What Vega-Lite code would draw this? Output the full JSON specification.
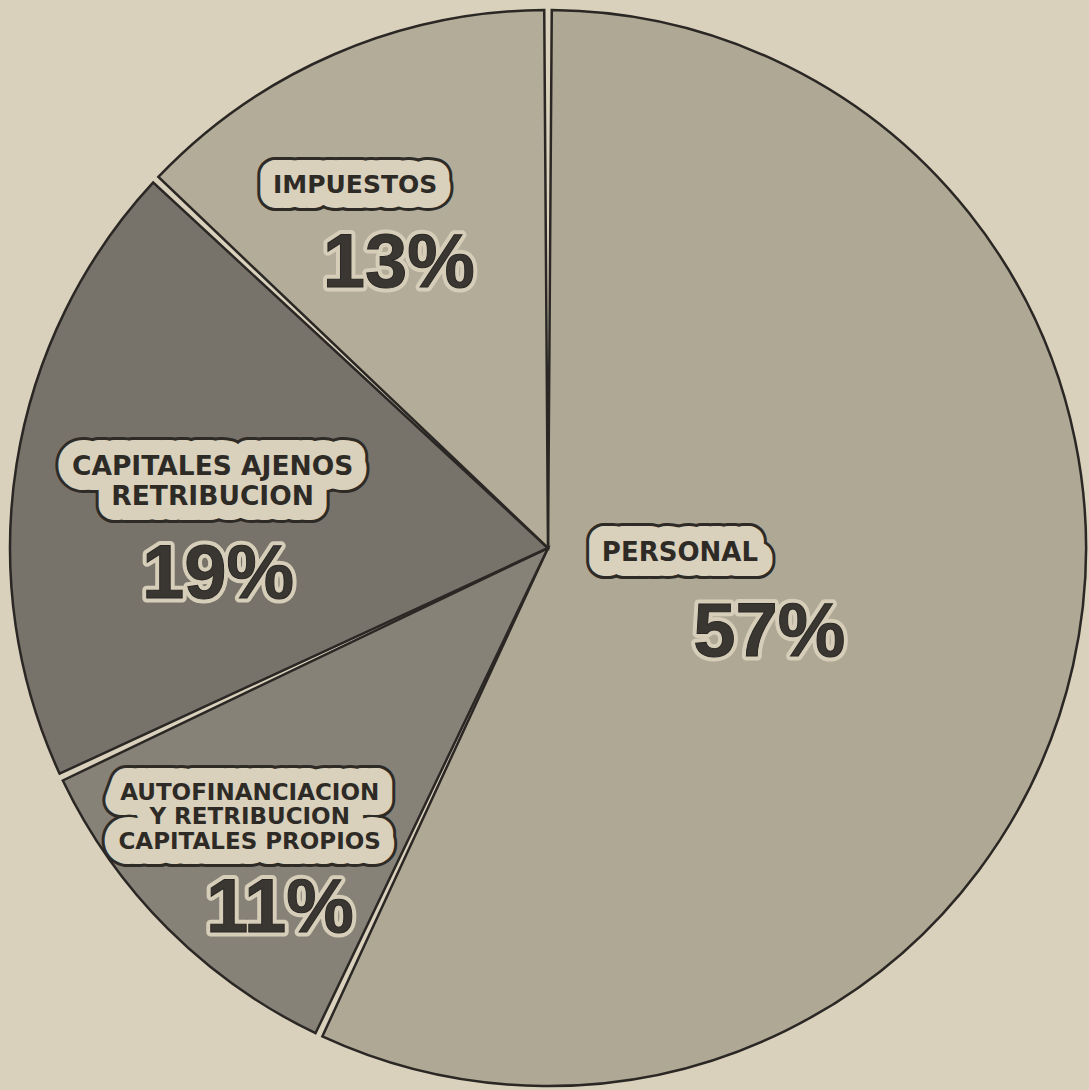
{
  "$schema": "https://vega.github.io/schema/vega-lite/v6.json",
  "width": 1089,
  "height": 1090,
  "autosize": {"type": "fit", "contains": "padding"},
  "padding": {"left": 7, "top": 6, "right": 0, "bottom": 0},
  "background": "#d9d1bc",
  "config": {"view": {"stroke": null}},
  "data": {
    "values": [
      {"cat": "PERSONAL", "label": "PERSONAL", "share": 0.57, "ord": 1},
      {"cat": "AUTO", "label": "AUTOFINANCIACION\nY RETRIBUCION\nCAPITALES PROPIOS", "share": 0.11, "ord": 2},
      {"cat": "AJENOS", "label": "CAPITALES AJENOS\nRETRIBUCION", "share": 0.19, "ord": 3},
      {"cat": "IMP", "label": "IMPUESTOS", "share": 0.13, "ord": 4}
    ]
  },
  "encoding": {
    "theta": {"field": "share", "type": "quantitative", "stack": true},
    "order": {"field": "ord", "type": "quantitative"}
  },
  "layer": [
    {
      "mark": {"type": "arc", "outerRadius": 538, "padAngle": 0.014, "stroke": "#2a2724", "strokeWidth": 2.5},
      "encoding": {
        "color": {
          "field": "cat", "type": "nominal",
          "scale": {"domain": ["PERSONAL", "AUTO", "AJENOS", "IMP"], "range": ["#afa895", "#878277", "#78736a", "#b3ac99"]},
          "legend": null
        }
      }
    },
    {
      "mark": {
        "type": "text",
        "radius": {"expr": "datum.cat==='PERSONAL'?132:datum.cat==='AUTO'?386:datum.cat==='AJENOS'?345:411"},
        "thetaOffset": {"expr": "datum.cat==='PERSONAL'?-0.18:datum.cat==='AUTO'?0.098:datum.cat==='AJENOS'?0.080:-0.08"},
        "lineBreak": "\n",
        "font": "DejaVu Sans", "fontWeight": "bold",
        "fontSize": {"expr": "datum.cat==='PERSONAL'?26:datum.cat==='AUTO'?23:datum.cat==='AJENOS'?26.5:25"},
        "lineHeight": {"expr": "datum.cat==='AUTO'?24.5:30"},
        "align": "center", "baseline": "middle",
        "fill": "#2e2b27", "stroke": "#2e2b27", "strokeWidth": 36,
        "strokeJoin": "round"
      },
      "encoding": {"text": {"field": "label"}}
    },
    {
      "mark": {
        "type": "text",
        "radius": {"expr": "datum.cat==='PERSONAL'?132:datum.cat==='AUTO'?386:datum.cat==='AJENOS'?345:411"},
        "thetaOffset": {"expr": "datum.cat==='PERSONAL'?-0.18:datum.cat==='AUTO'?0.098:datum.cat==='AJENOS'?0.080:-0.08"},
        "lineBreak": "\n",
        "font": "DejaVu Sans", "fontWeight": "bold",
        "fontSize": {"expr": "datum.cat==='PERSONAL'?26:datum.cat==='AUTO'?23:datum.cat==='AJENOS'?26.5:25"},
        "lineHeight": {"expr": "datum.cat==='AUTO'?24.5:30"},
        "align": "center", "baseline": "middle",
        "fill": "#d9d1bc", "stroke": "#d9d1bc", "strokeWidth": 30,
        "strokeJoin": "round"
      },
      "encoding": {"text": {"field": "label"}}
    },
    {
      "mark": {
        "type": "text",
        "radius": {"expr": "datum.cat==='PERSONAL'?132:datum.cat==='AUTO'?386:datum.cat==='AJENOS'?345:411"},
        "thetaOffset": {"expr": "datum.cat==='PERSONAL'?-0.18:datum.cat==='AUTO'?0.098:datum.cat==='AJENOS'?0.080:-0.08"},
        "lineBreak": "\n",
        "font": "DejaVu Sans", "fontWeight": "bold",
        "fontSize": {"expr": "datum.cat==='PERSONAL'?26:datum.cat==='AUTO'?23:datum.cat==='AJENOS'?26.5:25"},
        "lineHeight": {"expr": "datum.cat==='AUTO'?24.5:30"},
        "align": "center", "baseline": "middle",
        "fill": "#2e2b27"
      },
      "encoding": {"text": {"field": "label"}}
    },
    {
      "mark": {
        "type": "text",
        "radius": {"expr": "datum.cat==='PERSONAL'?237:datum.cat==='AUTO'?450:datum.cat==='AJENOS'?331:321"},
        "thetaOffset": {"expr": "datum.cat==='PERSONAL'?0.147:datum.cat==='AUTO'?-0.147:datum.cat==='AJENOS'?-0.239:-0.075"},
        "font": "Liberation Sans", "fontWeight": "bold", "fontSize": 76,
        "align": "center", "baseline": "middle",
        "fill": "#d6ceb9", "stroke": "#d6ceb9", "strokeWidth": 9, "strokeJoin": "round"
      },
      "encoding": {"text": {"field": "share", "type": "quantitative", "format": ".0%"}}
    },
    {
      "mark": {
        "type": "text",
        "radius": {"expr": "datum.cat==='PERSONAL'?237:datum.cat==='AUTO'?450:datum.cat==='AJENOS'?331:321"},
        "thetaOffset": {"expr": "datum.cat==='PERSONAL'?0.147:datum.cat==='AUTO'?-0.147:datum.cat==='AJENOS'?-0.239:-0.075"},
        "font": "Liberation Sans", "fontWeight": "bold", "fontSize": 76,
        "align": "center", "baseline": "middle",
        "fill": "#3a3733", "stroke": "#2a2724", "strokeWidth": 1
      },
      "encoding": {"text": {"field": "share", "type": "quantitative", "format": ".0%"}}
    }
  ]
}
